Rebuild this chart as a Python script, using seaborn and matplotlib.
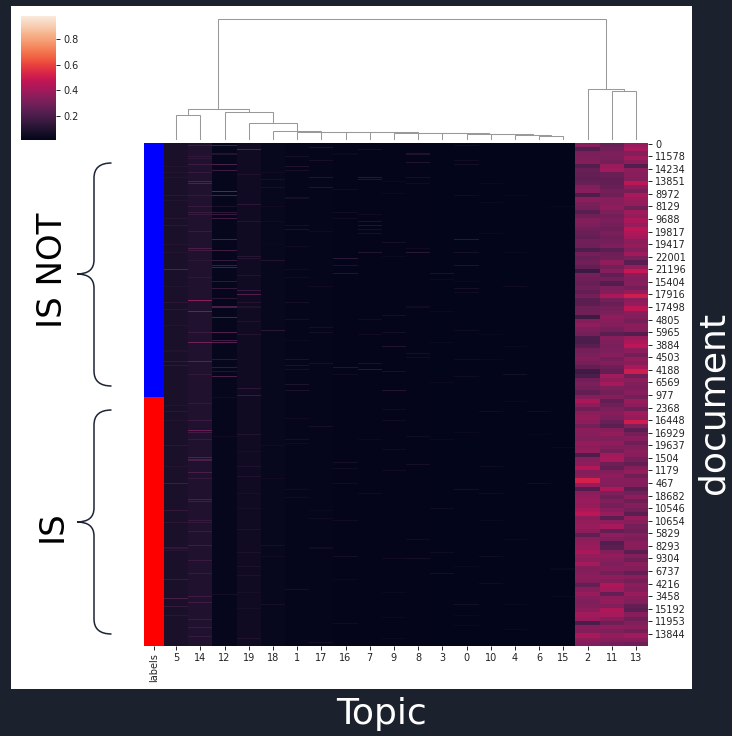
import matplotlib

matplotlib.use("Agg")

import matplotlib.pyplot as plt
import numpy as np
import seaborn as sns
from matplotlib.colors import ListedColormap
from matplotlib.patches import PathPatch, Rectangle
from matplotlib.path import Path

W, H = 732, 736
N_ROWS = 480

TOPICS = [5, 14, 12, 19, 18, 1, 17, 16, 7, 9, 8, 3, 0, 10, 4, 6, 15, 2, 11, 13]
DOC_LABELS = [0, 11578, 14234, 13851, 8972, 8129, 9688, 19817, 19417, 22001,
              21196, 15404, 17916, 17498, 4805, 5965, 3884, 4503, 4188, 6569,
              977, 2368, 16448, 16929, 19637, 1504, 1179, 467, 18682, 10546,
              10654, 5829, 8293, 9304, 6737, 4216, 3458, 15192, 11953, 13844]
N_IS_NOT = 242
N_IS = 238

# the three bright topics, four rows per value
COL_2 = [.34, .22, .31, .32, .33, .22, .27, .26, .25, .27,
         .33, .34, .21, .35, .31, .30, .23, .28, .33, .32,
         .29, .27, .26, .29, .28, .21, .30, .27, .29, .26,
         .16, .30, .28, .27, .29, .26, .30, .24, .24, .28,
         .29, .17, .33, .36, .32, .30, .21, .20, .23, .30,
         .31, .33, .30, .26, .17, .20, .29, .31, .30, .26,
         .34, .42, .35, .28, .35, .37, .35, .30, .35, .34,
         .33, .37, .35, .37, .21, .34, .35, .44, .33, .34,
         .52, .38, .22, .35, .37, .38, .37, .42, .46, .35,
         .37, .38, .35, .25, .35, .37, .38, .42, .37, .35,
         .41, .33, .34, .35, .33, .26, .34, .38, .34, .32,
         .33, .35, .40, .38, .20, .34, .33, .42, .35, .33]
COL_11 = [.27, .29, .32, .31, .30, .38, .40, .27, .26, .26,
          .27, .30, .28, .34, .34, .36, .32, .30, .31, .30,
          .28, .31, .29, .30, .32, .24, .28, .29, .36, .30,
          .34, .25, .30, .22, .32, .33, .42, .30, .27, .30,
          .32, .36, .34, .33, .30, .24, .34, .32, .31, .32,
          .34, .30, .33, .28, .26, .40, .36, .41, .32, .30,
          .33, .26, .28, .32, .34, .32, .27, .24, .34, .37,
          .33, .36, .33, .30, .40, .41, .28, .26, .33, .36,
          .34, .33, .43, .32, .28, .33, .30, .34, .38, .24,
          .36, .41, .26, .36, .32, .22, .24, .33, .37, .34,
          .32, .34, .30, .36, .33, .43, .40, .26, .36, .37,
          .33, .43, .41, .34, .28, .36, .32, .37, .34, .30]
COL_13 = [.38, .41, .33, .40, .35, .22, .35, .34, .33, .46,
          .35, .30, .42, .38, .37, .28, .40, .37, .42, .38,
          .46, .43, .40, .35, .37, .33, .40, .31, .24, .37,
          .48, .35, .33, .34, .30, .37, .50, .34, .37, .46,
          .34, .33, .30, .35, .34, .22, .38, .42, .46, .35,
          .30, .37, .34, .42, .50, .28, .35, .33, .31, .34,
          .30, .38, .35, .28, .40, .37, .50, .33, .24, .30,
          .34, .28, .33, .35, .34, .30, .26, .33, .37, .28,
          .34, .33, .24, .30, .35, .28, .33, .30, .24, .37,
          .34, .30, .28, .33, .31, .35, .34, .24, .33, .28,
          .35, .33, .26, .34, .30, .35, .33, .38, .34, .33,
          .26, .24, .34, .28, .33, .35, .30, .40, .34, .28]

# level of the darker topics, the rest of their rows is in the streaks below
BASE_LEVEL = {5: .075, 14: .09, 12: .025, 19: .05, 18: .028, 1: .02, 17: .018,
              16: .016, 7: .015, 9: .015, 8: .014, 3: .013, 0: .013, 10: .012,
              4: .012, 6: .011, 15: .011}

# streak positions on a 240 row grid, doubled when the matrix is built
STREAKS = {
    5: {60: .22, 39: .12, 11: .1, 14: .1, 16: .1, 25: .11, 27: .1, 36: .11, 48: .1,
        52: .1, 68: .1, 76: .12, 79: .12, 104: .14, 106: .13, 99: .1, 87: .1,
        125: .1, 128: .11, 132: .1, 144: .12, 154: .1, 162: .17, 175: .14,
        181: .12, 193: .13, 194: .11, 208: .15, 217: .2, 221: .15, 225: .12},
    14: {1: .16, 6: .13, 7: .13, 10: .17, 14: .15, 18: .22, 19: .22, 25: .14, 30: .15,
         33: .16, 34: .15, 42: .15, 50: .2, 51: .18, 56: .12, 64: .13, 75: .35,
         80: .28, 90: .16, 95: .3, 104: .25, 110: .14, 124: .14, 132: .16, 137: .27,
         138: .18, 141: .15, 150: .22, 151: .2, 157: .2, 160: .14, 170: .2, 171: .18,
         180: .15, 181: .14, 185: .16, 192: .17, 199: .16, 205: .15, 216: .17,
         219: .18, 227: .16, 231: .16, 235: .15},
    12: {1: .2, 5: .1, 10: .2, 13: .17, 23: .27, 25: .22, 30: .08, 33: .13, 34: .15,
         36: .17, 46: .2, 51: .18, 56: .15, 58: .17, 59: .2, 66: .13, 69: .15,
         74: .12, 78: .2, 83: .22, 90: .22, 94: .18, 95: .22, 103: .12, 107: .14,
         109: .1, 111: .2, 121: .05, 140: .05, 215: .06},
    19: {3: .22, 15: .09, 29: .12, 37: .1, 54: .11, 55: .1, 63: .1, 70: .15, 72: .22,
         76: .1, 78: .09, 85: .09, 91: .1, 117: .13, 120: .15, 139: .1, 147: .07,
         154: .09, 159: .09, 167: .07, 174: .07, 184: .08, 195: .08, 202: .08,
         206: .08, 214: .07, 222: .07, 236: .09},
    18: {56: .1, 89: .12, 21: .06, 30: .05, 37: .05, 14: .05, 17: .06, 48: .04,
         144: .05, 160: .05, 192: .06, 197: .05, 220: .07},
    1: {6: .06, 11: .09, 13: .07, 26: .06, 39: .06, 41: .08, 49: .05, 60: .05, 64: .05,
        76: .06, 84: .06, 94: .04, 103: .08, 106: .08, 108: .06, 115: .09, 118: .08,
        131: .05, 141: .06, 143: .05, 165: .05, 169: .05, 213: .06},
    17: {2: .09, 8: .07, 16: .1, 21: .1, 42: .05, 68: .05, 88: .06, 90: .06, 105: .07,
         135: .07, 175: .04, 179: .05, 193: .05, 238: .06},
    16: {22: .05, 33: .05, 36: .05, 55: .12, 58: .08, 62: .1, 107: .1, 110: .05, 5: .04,
         152: .06, 155: .05, 162: .05, 180: .05, 197: .06, 208: .04, 229: .05},
    7: {3: .06, 16: .12, 17: .1, 34: .05, 37: .08, 39: .1, 41: .07, 43: .06, 52: .1,
        84: .05, 91: .05, 105: .08, 108: .12, 141: .04, 167: .05},
    9: {18: .04, 47: .07, 54: .04, 82: .06, 90: .06, 97: .1, 109: .07, 118: .1, 24: .04,
        127: .05, 132: .05, 146: .05, 156: .05, 198: .05, 214: .04, 226: .04, 236: .04},
    8: {5: .09, 9: .1, 16: .07, 19: .05, 50: .05, 52: .12, 78: .05, 100: .06, 102: .05,
        140: .05, 153: .06, 189: .05, 198: .06},
    3: {62: .08, 65: .04, 80: .04, 95: .04, 114: .04, 141: .04, 174: .05, 195: .05,
        205: .06},
    0: {1: .05, 8: .05, 10: .06, 25: .05, 46: .12, 52: .07, 58: .09, 66: .04, 69: .07,
        71: .05, 89: .05, 103: .05, 111: .05, 138: .04, 165: .06, 202: .04, 220: .06,
        225: .04, 230: .04},
    10: {19: .04, 28: .04, 43: .04, 91: .03, 103: .04, 128: .05, 154: .05, 167: .05,
         180: .04, 197: .05, 210: .05},
    4: {25: .03, 52: .04, 68: .05, 97: .04, 110: .07, 123: .04, 189: .04, 220: .04,
        232: .04},
    6: {30: .02, 128: .05, 139: .03, 162: .05},
    15: {30: .03, 145: .04, 203: .04, 216: .04},
}

# linkage of the topic columns: children (20 + k is the k-th merge) and height
MERGE_LEFT = [6, 4, 10, 0, 3, 8, 9, 7, 16, 17, 1, 18, 19, 12, 5, 34, 11, 2, 35]
MERGE_RIGHT = [15, 20, 21, 22, 23, 24, 25, 26, 27, 28, 29, 30, 31, 32, 14, 33, 13, 36, 37]
MERGE_HEIGHT = [3, 4, 4.7, 5.3, 5.7, 5.8, 6.3, 6.7, 6.8, 7.3, 7.4, 7.6, 15.7, 26.7,
                23.7, 30, 48, 50, 119.7]

CBAR_TICKS = [0.2, 0.4, 0.6, 0.8]
VMIN, VMAX = 0.01, 0.98

BG_COLOR = "#1b212d"
BRACE_COLOR = "#1c2535"
TICK_SIZE = 7
BIG_FONT = ["DejaVu Sans"]


def px_axes(fig, left, top, right, bottom):
    return fig.add_axes([left / W, 1 - bottom / H, (right - left) / W, (bottom - top) / H])


def build_matrix():
    matrix = np.zeros((N_ROWS, len(TOPICS)))
    bright = {2: COL_2, 11: COL_11, 13: COL_13}
    for j, topic in enumerate(TOPICS):
        if topic in bright:
            matrix[:, j] = np.repeat(bright[topic], 4)
        else:
            matrix[:, j] = BASE_LEVEL[topic]
            for row, val in STREAKS[topic].items():
                matrix[row * 2, j] = val
    return matrix


def draw_dendrogram(ax):
    pos = {t: j + 0.5 for j, t in enumerate(TOPICS)}
    level = {t: 0 for t in TOPICS}
    for k, (a, b, h) in enumerate(zip(MERGE_LEFT, MERGE_RIGHT, MERGE_HEIGHT)):
        ax.plot([pos[a], pos[a], pos[b], pos[b]], [level[a], h, h, level[b]],
                color="#999999", lw=0.75, solid_joinstyle="miter", clip_on=False)
        pos[20 + k] = (pos[a] + pos[b]) / 2
        level[20 + k] = h
    ax.set_xlim(0, len(TOPICS))
    ax.set_ylim(0, 120)
    ax.axis("off")


def draw_brace(ax, top, tip, bottom):
    codes = [Path.MOVETO, Path.CURVE3, Path.CURVE3, Path.LINETO, Path.CURVE3, Path.CURVE3,
             Path.CURVE3, Path.CURVE3, Path.LINETO, Path.CURVE3, Path.CURVE3]
    verts = [(111.5, top), (94, top), (94, top + 15), (94, tip - 14), (94, tip), (77, tip),
             (94, tip), (94, tip + 14), (94, bottom - 15), (94, bottom), (111.5, bottom)]
    ax.add_patch(PathPatch(Path(verts, codes), fc="none", ec=BRACE_COLOR, lw=1.1))


fig = plt.figure(figsize=(W / 100, H / 100), dpi=100, facecolor=BG_COLOR)
fig.add_artist(Rectangle((11 / W, 1 - 689 / H), 681 / W, 683 / H, transform=fig.transFigure,
                         fc="white", ec="none", zorder=-1))

cbar_ax = px_axes(fig, 21, 16, 56, 140)
main_ax = px_axes(fig, 164, 143, 648, 646)
label_ax = px_axes(fig, 144, 143, 164, 646)
dendro_ax = px_axes(fig, 164, 19, 648, 139)

sns.heatmap(build_matrix(), ax=main_ax, cmap="rocket", vmin=VMIN, vmax=VMAX, cbar_ax=cbar_ax,
            xticklabels=TOPICS, yticklabels=False)
main_ax.set_yticks(np.arange(len(DOC_LABELS)) * 12 + 0.5)
main_ax.set_yticklabels(DOC_LABELS, rotation=0, fontsize=TICK_SIZE, color="#222222")
main_ax.yaxis.tick_right()
main_ax.tick_params(axis="x", labelsize=TICK_SIZE, labelrotation=0, length=2.6, width=0.6,
                    pad=2.5, labelcolor="#222222")
main_ax.tick_params(axis="y", length=2.6, width=0.6, pad=2.5)

label_rows = np.array([0] * N_IS_NOT + [1] * N_IS).reshape(-1, 1)
sns.heatmap(label_rows, ax=label_ax, cmap=ListedColormap(["#0000ff", "#ff0000"]), cbar=False,
            xticklabels=["labels"], yticklabels=False)
label_ax.tick_params(axis="x", labelsize=TICK_SIZE, labelrotation=90, length=2.6, width=0.6,
                     pad=2.5, labelcolor="#222222")

cbar_ax.set_yticks(CBAR_TICKS)
cbar_ax.set_yticklabels(["0.2", "0.4", "0.6", "0.8"])
cbar_ax.tick_params(labelsize=TICK_SIZE, length=2.6, width=0.6, pad=2.5, labelcolor="#222222")

draw_dendrogram(dendro_ax)

overlay = fig.add_axes([0, 0, 1, 1], facecolor="none")
overlay.set_xlim(0, W)
overlay.set_ylim(H, 0)
overlay.axis("off")
draw_brace(overlay, 163, 274, 386)
draw_brace(overlay, 410, 522, 634)

overlay.text(52, 270, "IS NOT", rotation=90, ha="center", va="center", fontsize=24.5,
             family=BIG_FONT, color="black")
overlay.text(52, 526, "IS", rotation=90, ha="center", va="center", fontsize=24.5,
             family=BIG_FONT, color="black")
overlay.text(381, 714, "Topic", ha="center", va="center", fontsize=26, family=BIG_FONT,
             color="white")
overlay.text(713, 403, "document", rotation=90, ha="center", va="center", fontsize=26,
             family=BIG_FONT, color="white")

fig.savefig("out.png", dpi=100, facecolor=fig.get_facecolor())
